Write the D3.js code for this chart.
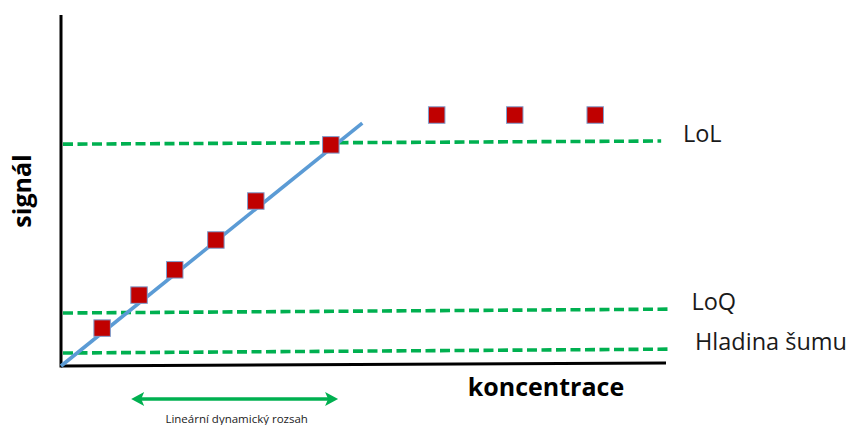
<!DOCTYPE html>
<html><head><meta charset="utf-8">
<script src="https://cdn.jsdelivr.net/npm/d3@7"></script>
<style>html,body{margin:0;padding:0;background:#fff;}svg{display:block;}</style>
</head><body>
<svg id="chart" width="850" height="425"></svg>
<script>
// Data (arbitrary units)
const pointX = [0.68, 1.29, 1.88, 2.56, 3.22, 4.46, 6.21, 7.50, 8.83];
const pointY = [1.08, 2.02, 2.74, 3.59, 4.70, 6.30, 7.15, 7.15, 7.15];
const fitX = [0, 4.98];
const fitY = [0, 6.92];
const levelNames = ["LoL", "LoQ", "Hladina šumu"];
const levelStart = [6.32, 1.51, 0.37];
const levelEnd = [6.41, 1.62, 0.48];
const levelEndX = [9.92, 10.07, 10.03];
const levelLabelX = [10.28, 10.42, 10.48];
const rangeX = [1.16, 4.58];
const xAxisLabel = "koncentrace";
const yAxisLabel = "signál";
const rangeLabel = "Lineární dynamický rozsah";

const svg = d3.select("#chart");
const x = d3.scaleLinear().domain([0, 10]).range([61, 666]);
const y = d3.scaleLinear().domain([0, 10]).range([366, 15]);
const green = "#00B050";

// axes
svg.append("line").attr("x1", x(0)).attr("x2", x(0)).attr("y1", y(10)).attr("y2", y(0) + 1.5)
  .attr("stroke", "#000").attr("stroke-width", 3);
svg.append("line").attr("x1", x(0)).attr("x2", x(10)).attr("y1", y(0)).attr("y2", y(0.085))
  .attr("stroke", "#000").attr("stroke-width", 3);

// dashed levels
levelNames.forEach((n, i) => {
  svg.append("line").attr("x1", x(0) + 2).attr("x2", x(levelEndX[i]))
    .attr("y1", y(levelStart[i])).attr("y2", y(levelEnd[i]))
    .attr("stroke", green).attr("stroke-width", 3.6).attr("stroke-dasharray", "10,4.5");
  svg.append("text").attr("x", x(levelLabelX[i])).attr("y", y(levelEnd[i]) + 1)
    .attr("font-family", "Open Sans").attr("font-size", 23.5).attr("fill", "#1a1a1a")
    .text(n);
});

// fit line
svg.append("line").attr("x1", x(fitX[0])).attr("y1", y(fitY[0]))
  .attr("x2", x(fitX[1])).attr("y2", y(fitY[1]))
  .attr("stroke", "#5B9BD5").attr("stroke-width", 3.6);

// points
const s = 16.5;
svg.selectAll("rect.pt").data(pointX.map((v, i) => [v, pointY[i]])).enter()
  .append("rect").attr("class", "pt")
  .attr("x", d => x(d[0]) - s / 2).attr("y", d => y(d[1]) - s / 2)
  .attr("width", s).attr("height", s)
  .attr("fill", "#C00000").attr("stroke", "#7F9FCF").attr("stroke-width", 1);

// axis titles
svg.append("text").attr("transform", `translate(31,${191}) rotate(-90)`)
  .attr("text-anchor", "middle").attr("font-family", "Open Sans").attr("font-weight", "bold")
  .attr("font-size", 25).attr("fill", "#000").text(yAxisLabel);
svg.append("text").attr("x", 546).attr("y", 396).attr("text-anchor", "middle")
  .attr("font-family", "Open Sans").attr("font-weight", "bold")
  .attr("font-size", 25).attr("fill", "#000").text(xAxisLabel);

// range arrow
const ay = 399;
const x1 = x(rangeX[0]), x2 = x(rangeX[1]);
svg.append("line").attr("x1", x1 + 8).attr("x2", x2 - 8).attr("y1", ay).attr("y2", ay)
  .attr("stroke", green).attr("stroke-width", 3.6);
const head = (tip, dir) => {
  const p = d3.path();
  p.moveTo(tip, ay);
  p.lineTo(tip + dir * 13, ay - 7);
  p.lineTo(tip + dir * 10, ay);
  p.lineTo(tip + dir * 13, ay + 7);
  p.closePath();
  svg.append("path").attr("d", p.toString()).attr("fill", green);
};
head(x1, 1); head(x2, -1);
svg.append("text").attr("x", (x1 + x2) / 2 + 2).attr("y", 423).attr("text-anchor", "middle")
  .attr("font-family", "Open Sans").attr("font-size", 11.5).attr("fill", "#222").text(rangeLabel);
</script>
</body></html>
